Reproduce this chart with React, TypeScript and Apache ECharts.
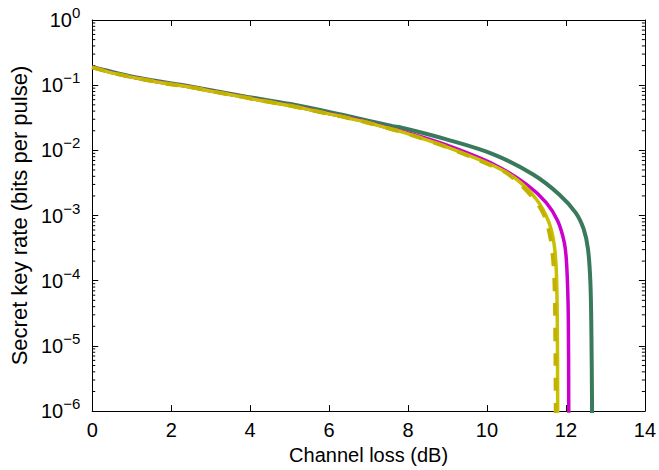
import React, { useEffect, useRef } from "react";
import * as echarts from "echarts";

// Channel loss (dB) / secret key rate (bits per pulse)
const greenLoss = [0, 1.19, 2.45, 3.76, 5.02, 6.33, 7.59, 7.86, 8.93, 10.18, 11.17, 11.83, 12.25, 12.45, 12.56, 12.62, 12.645, 12.66, 12.665];
const greenRate = [0.191, 0.129, 0.0966, 0.0692, 0.0513, 0.0351, 0.0237, 0.0221, 0.015, 0.00863, 0.00427, 0.00211, 0.0011, 0.000617, 0.000302, 0.0000933, 0.0000162, 1.6e-6, 3.2e-7];

const magentaLoss = [0, 0.55, 1.19, 1.83, 2.45, 3.11, 3.76, 4.38, 5.02, 5.68, 6.33, 6.96, 7.59, 7.86, 8.93, 10.18, 11.0, 11.5, 11.79, 11.96, 12.02, 12.06, 12.07, 12.075];
const magentaRate = [0.189, 0.153, 0.127, 0.108, 0.0946, 0.0794, 0.0673, 0.0571, 0.049, 0.0402, 0.0333, 0.0272, 0.0214, 0.0196, 0.0123, 0.00607, 0.003, 0.00158, 0.000832, 0.00038, 0.00017, 0.0000288, 1.58e-6, 3.2e-7];

const yellowLoss = [0, 0.55, 1.19, 1.83, 2.45, 3.11, 3.76, 4.38, 5.02, 5.68, 6.33, 6.96, 7.59, 7.86, 8.93, 10.18, 10.76, 11.25, 11.54, 11.68, 11.75, 11.78, 11.79, 11.795];
const yellowRate = [0.188, 0.152, 0.126, 0.107, 0.094, 0.0789, 0.0668, 0.0566, 0.0485, 0.0398, 0.0329, 0.0268, 0.0211, 0.0191, 0.0116, 0.00575, 0.00355, 0.00178, 0.000871, 0.000437, 0.00017, 0.0000288, 1.58e-6, 3.2e-7];

const dashedLoss = [0, 0.55, 1.19, 1.83, 2.45, 3.11, 3.76, 4.38, 5.02, 5.68, 6.33, 6.96, 7.59, 7.86, 8.93, 10.18, 10.55, 11.09, 11.42, 11.59, 11.67, 11.71, 11.73, 11.74, 11.745];
const dashedRate = [0.188, 0.152, 0.126, 0.107, 0.094, 0.0789, 0.0668, 0.0566, 0.0485, 0.0398, 0.0329, 0.0268, 0.0211, 0.0191, 0.0115, 0.00562, 0.00427, 0.00211, 0.0011, 0.000513, 0.000229, 0.0000933, 0.0000162, 2.14e-6, 3.2e-7];

const decades = [-6, -5, -4, -3, -2, -1];
const minorMultipliers = [2, 3, 4, 5, 6, 7, 8, 9];

const FONT = "Liberation Sans, Arial, Helvetica, sans-serif";

const pairs = (xs: number[], ys: number[]) => xs.map((x, i) => [x, ys[i]]);

export default function App() {
  const ref = useRef<HTMLDivElement>(null);
  useEffect(() => {
    if (!ref.current) return;
    const chart = echarts.init(ref.current, undefined, { renderer: "svg" });
    const minorTicks: number[][] = [];
    decades.forEach((d) => minorMultipliers.forEach((m) => minorTicks.push([0, m * Math.pow(10, d)])));

    const supLabel = (v: number) => {
      const e = Math.round(Math.log10(v));
      return `{b|10}{s|${e < 0 ? "\u2212" + -e : e}}`;
    };

    const lineBase = {
      type: "line",
      showSymbol: false,
      symbol: "none",
      smooth: 0.35,
      clip: true,
    };

    const frameAxis = {
      axisLine: { show: true, onZero: false, lineStyle: { color: "#000", width: 1 } },
      axisTick: { show: true, inside: true, length: 6, lineStyle: { color: "#000" } },
      splitLine: { show: false },
    };

    chart.setOption({
      animation: false,
      backgroundColor: "#ffffff",
      grid: { left: 84, right: 12, top: 20, bottom: 58 },
      xAxis: [
        {
          type: "value",
          min: 0,
          max: 14,
          interval: 2,
          position: "bottom",
          name: "Channel loss (dB)",
          nameLocation: "middle",
          nameGap: 32,
          nameTextStyle: { fontFamily: FONT, fontSize: 20, color: "#000" },
          ...frameAxis,
          axisLabel: { fontFamily: FONT, fontSize: 20, color: "#000", margin: 9 },
        },
        {
          type: "value",
          min: 0,
          max: 14,
          interval: 2,
          position: "top",
          ...frameAxis,
          axisLabel: { show: false },
        },
      ],
      yAxis: [
        {
          type: "log",
          logBase: 10,
          min: 1e-6,
          max: 1,
          interval: 1,
          position: "left",
          name: "Secret key rate (bits per pulse)",
          nameLocation: "middle",
          nameGap: 57,
          nameTextStyle: { fontFamily: FONT, fontSize: 22, color: "#000" },
          ...frameAxis,
          axisLabel: {
            margin: 12,
            formatter: supLabel,
            rich: {
              b: { fontFamily: FONT, fontSize: 20, color: "#000", lineHeight: 30, verticalAlign: "middle" },
              s: { fontFamily: FONT, fontSize: 15, color: "#000", lineHeight: 30, verticalAlign: "top" },
            },
          },
        },
        {
          type: "log",
          logBase: 10,
          min: 1e-6,
          max: 1,
          interval: 1,
          position: "right",
          ...frameAxis,
          axisLabel: { show: false },
        },
      ],
      series: [
        {
          type: "custom",
          xAxisIndex: 0,
          yAxisIndex: 0,
          silent: true,
          data: minorTicks,
          renderItem: (params: any, api: any) => {
            const v = api.value(1);
            const l = api.coord([0, v]);
            const r = api.coord([14, v]);
            return {
              type: "group",
              children: [
                { type: "line", shape: { x1: l[0], y1: l[1], x2: l[0] + 3, y2: l[1] }, style: { stroke: "#000", lineWidth: 1 } },
                { type: "line", shape: { x1: r[0], y1: r[1], x2: r[0] - 3, y2: r[1] }, style: { stroke: "#000", lineWidth: 1 } },
              ],
            };
          },
        },
        { ...lineBase, name: "green", data: pairs(greenLoss, greenRate), lineStyle: { color: "#3a7a5c", width: 4 }, itemStyle: { color: "#3a7a5c" } },
        { ...lineBase, name: "magenta", data: pairs(magentaLoss, magentaRate), lineStyle: { color: "#cc00cc", width: 3.5 }, itemStyle: { color: "#cc00cc" } },
        { ...lineBase, name: "yellow", data: pairs(yellowLoss, yellowRate), lineStyle: { color: "#c8c000", width: 3.5 }, itemStyle: { color: "#c8c000" } },
        { ...lineBase, name: "yellowDashed", data: pairs(dashedLoss, dashedRate), lineStyle: { color: "#c2b200", width: 4, type: [13, 12] }, itemStyle: { color: "#c2b200" } },
      ],
    });
    return () => chart.dispose();
  }, []);
  return <div ref={ref} style={{ width: 659, height: 470, position: "absolute", left: 0, top: 0 }} />;
}
